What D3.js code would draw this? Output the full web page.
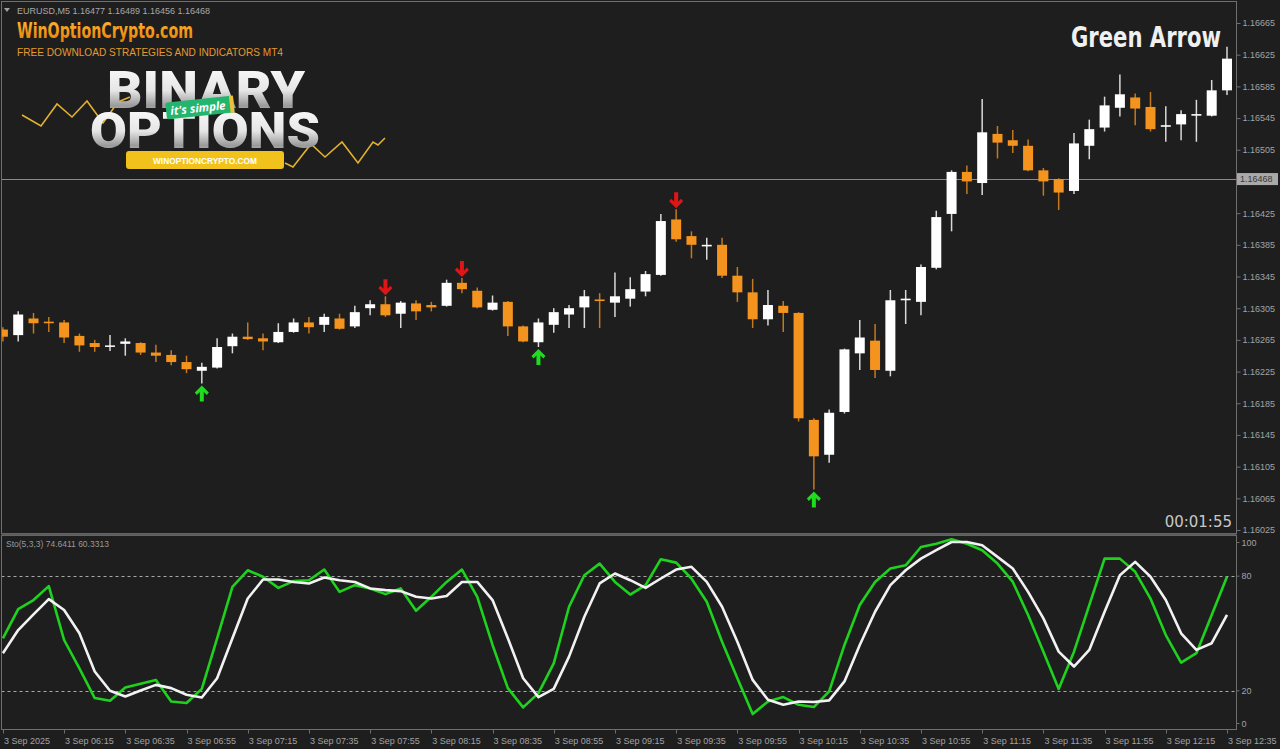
<!DOCTYPE html>
<html><head><meta charset="utf-8">
<script src="https://cdn.jsdelivr.net/npm/d3@7"></script>
<style>
html,body{margin:0;padding:0;background:#1e1e1e;overflow:hidden}
svg{display:block}
</style></head><body>
<svg id="chart" width="1280" height="749"></svg>
<script>
// ---------------- DATA ----------------
const symbolText = "EURUSD,M5";
const headerQuote = "1.16477 1.16489 1.16456 1.16468";
const chartTitle = "Green Arrow";
const timerText = "00:01:55";
const stochLabel = "Sto(5,3,3) 74.6411 60.3313";
const bidPrice = 1.16468;

const opens = [1.16278,1.16271,1.16292,1.16288,1.16287,1.16270,1.16261,1.16257,1.16260,1.16261,
1.16249,1.16246,1.16237,1.16226,1.16230,1.16257,1.16269,1.16267,1.16262,1.16275,
1.16287,1.16284,1.16292,1.16282,1.16305,1.16310,1.16298,1.16311,1.16309,1.16308,
1.16337,1.16327,1.16303,1.16313,1.16282,1.16262,1.16284,1.16297,1.16306,1.16316,
1.16312,1.16317,1.16326,1.16347,1.16417,1.16396,1.16383,1.16385,1.16346,1.16325,
1.16291,1.16308,1.16299,1.16164,1.16120,1.16174,1.16248,1.16264,1.16226,1.16315,
1.16313,1.16356,1.16424,1.16477,1.16463,1.16525,1.16517,1.16510,1.16479,1.16468,
1.16453,1.16510,1.16533,1.16558,1.16571,1.16559,1.16534,1.16537,1.16548,1.16548,
1.16580];
const highs = [1.16281,1.16301,1.16299,1.16294,1.16290,1.16273,1.16265,1.16271,1.16267,1.16262,
1.16259,1.16252,1.16245,1.16236,1.16267,1.16273,1.16287,1.16273,1.16286,1.16292,
1.16294,1.16298,1.16298,1.16308,1.16315,1.16320,1.16314,1.16315,1.16313,1.16341,
1.16343,1.16331,1.16321,1.16314,1.16283,1.16292,1.16305,1.16309,1.16328,1.16324,
1.16350,1.16344,1.16352,1.16424,1.16430,1.16402,1.16394,1.16394,1.16357,1.16342,
1.16328,1.16314,1.16300,1.16166,1.16177,1.16254,1.16290,1.16285,1.16328,1.16328,
1.16360,1.16428,1.16479,1.16485,1.16569,1.16535,1.16530,1.16518,1.16482,1.16469,
1.16526,1.16543,1.16572,1.16600,1.16576,1.16578,1.16560,1.16555,1.16568,1.16593,
1.16635];
const lows = [1.16263,1.16263,1.16273,1.16275,1.16261,1.16250,1.16250,1.16251,1.16245,1.16246,
1.16237,1.16233,1.16223,1.16210,1.16229,1.16248,1.16265,1.16252,1.16261,1.16274,
1.16273,1.16275,1.16278,1.16280,1.16296,1.16294,1.16280,1.16290,1.16301,1.16307,
1.16324,1.16305,1.16302,1.16270,1.16262,1.16256,1.16274,1.16280,1.16280,1.16280,
1.16294,1.16307,1.16320,1.16346,1.16389,1.16368,1.16366,1.16343,1.16313,1.16280,
1.16283,1.16275,1.16162,1.16076,1.16110,1.16172,1.16227,1.16217,1.16219,1.16285,
1.16296,1.16354,1.16402,1.16449,1.16448,1.16494,1.16501,1.16478,1.16447,1.16429,
1.16449,1.16493,1.16528,1.16547,1.16536,1.16528,1.16515,1.16517,1.16515,1.16547,
1.16574];
const closes = [1.16269,1.16297,1.16286,1.16286,1.16268,1.16258,1.16256,1.16258,1.16263,1.16249,
1.16245,1.16237,1.16228,1.16231,1.16256,1.16269,1.16266,1.16263,1.16275,1.16287,
1.16281,1.16294,1.16279,1.16300,1.16310,1.16296,1.16312,1.16301,1.16306,1.16337,
1.16329,1.16306,1.16312,1.16282,1.16263,1.16287,1.16300,1.16305,1.16320,1.16314,
1.16320,1.16329,1.16348,1.16415,1.16392,1.16385,1.16385,1.16346,1.16325,1.16291,
1.16309,1.16299,1.16166,1.16118,1.16173,1.16253,1.16268,1.16227,1.16315,1.16317,
1.16357,1.16420,1.16477,1.16465,1.16527,1.16514,1.16510,1.16479,1.16465,1.16451,
1.16513,1.16531,1.16561,1.16575,1.16557,1.16531,1.16536,1.16550,1.16550,1.16580,
1.16620];

const stochK = [47.5,62.8,67.5,74.8,46.6,31.8,16.2,14.8,21.7,23.7,
25.7,14.4,13.6,21.0,47.5,74.4,83.1,79.7,73.9,77.4,
77.9,83.5,71.8,75.3,73.6,70.6,73.6,61.9,69.2,77.0,
83.5,69.2,44.0,21.4,11.3,18.8,34.4,64.0,80.5,86.6,
77.0,70.4,75.3,88.9,87.1,78.8,66.6,45.7,26.6,7.8,
14.4,16.7,12.7,11.5,19.7,44.0,64.9,77.0,84.0,85.7,
95.3,97.0,99.3,97.0,93.6,86.6,77.0,59.7,40.5,21.0,
40.5,64.9,89.2,89.2,82.3,68.3,49.2,34.8,39.7,59.7,
79.7];
const stochD = [39.7,51.8,60.0,68.0,62.3,50.1,30.1,20.0,17.0,20.2,
23.1,21.4,17.9,16.5,26.6,47.5,68.3,78.3,78.3,77.0,
76.2,79.3,77.9,77.0,73.6,72.7,72.2,69.2,68.3,69.6,
77.0,77.0,67.5,47.5,26.6,16.7,21.0,37.9,58.8,76.2,
81.4,77.9,73.9,78.8,83.5,84.9,77.0,64.0,45.7,25.7,
15.3,12.7,14.4,14.1,15.0,24.9,44.0,61.4,75.3,83.1,
89.2,93.6,97.9,97.9,96.2,90.1,84.0,71.8,57.9,40.5,
32.7,41.4,61.4,80.5,87.5,79.7,67.5,50.1,41.4,44.9,
59.7];

const buySignals = [13, 35, 53];   // green up arrows (candle index)
const sellSignals = [25, 30, 44];  // red down arrows (candle index)

const priceTicks = [1.16665,1.16625,1.16585,1.16545,1.16505,1.16425,1.16385,1.16345,
1.16305,1.16265,1.16225,1.16185,1.16145,1.16105,1.16065,1.16025];
const timeTickIndex = [0,4,8,12,16,20,24,28,32,36,40,44,48,52,56,60,64,68,72,76,80];
const timeTickLabels = ["3 Sep 2025","3 Sep 06:15","3 Sep 06:35","3 Sep 06:55","3 Sep 07:15",
"3 Sep 07:35","3 Sep 07:55","3 Sep 08:15","3 Sep 08:35","3 Sep 08:55","3 Sep 09:15",
"3 Sep 09:35","3 Sep 09:55","3 Sep 10:15","3 Sep 10:35","3 Sep 10:55","3 Sep 11:15",
"3 Sep 11:35","3 Sep 11:55","3 Sep 12:15","3 Sep 12:35"];
const stochTicks = [100, 80, 20, 0];
const stochLevels = [80, 20];

// ---------------- LAYOUT ----------------
const W = 1280, H = 749;
const BG = "#1e1e1e";
const FRAME = "#6f6f6f";
const AXIS_TXT = "#a3a3a3";
const ORANGE = "#f5931f";
const plotL = 1.5, plotR = 1236.5;
const mainTop = 1.5, mainBot = 533.5;
const subTop = 535.5, subBot = 729.5;

const svg = d3.select("#chart");
svg.append("rect").attr("width", W).attr("height", H).attr("fill", BG);

const n = opens.length;
const x = d3.scaleLinear().domain([0, n - 1]).range([2.9, 1227]);
const y = d3.scaleLinear().domain([1.16025, 1.16665]).range([530, 23]);
const ys = d3.scaleLinear().domain([0, 100]).range([729, 538]);

const defs = svg.append("defs");
defs.append("clipPath").attr("id", "clipMain").append("rect")
  .attr("x", plotL + 0.5).attr("y", mainTop + 0.5).attr("width", plotR - plotL - 1).attr("height", mainBot - mainTop - 1);
defs.append("clipPath").attr("id", "clipSub").append("rect")
  .attr("x", plotL + 0.5).attr("y", subTop + 0.5).attr("width", plotR - plotL - 1).attr("height", subBot - subTop - 1);

// ---------------- LOGO (decor) ----------------
const logo = svg.append("g");
const gOr = defs.append("linearGradient").attr("id", "gOr").attr("x1", 0).attr("y1", 0).attr("x2", 0).attr("y2", 1);
gOr.append("stop").attr("offset", "0%").attr("stop-color", "#ffb733");
gOr.append("stop").attr("offset", "100%").attr("stop-color", "#e87d00");
const gSil = defs.append("linearGradient").attr("id", "gSil").attr("x1", 0).attr("y1", 0).attr("x2", 0).attr("y2", 1);
gSil.append("stop").attr("offset", "0%").attr("stop-color", "#ffffff");
gSil.append("stop").attr("offset", "50%").attr("stop-color", "#e6e6e6");
gSil.append("stop").attr("offset", "75%").attr("stop-color", "#9a9a9a");
gSil.append("stop").attr("offset", "100%").attr("stop-color", "#d8d8d8");

const zigL = [[22,115],[41,126],[57,104],[72,117],[87,101],[103,123],[118,102],[130,97]];
const zigR = [[285,163],[293,167],[311,144],[325,157],[342,142],[358,163],[373,142],[378,145],[385,138]];
[zigL, zigR].forEach(z => logo.append("path").attr("d", d3.line()(z))
  .attr("fill", "none").attr("stroke", "#e2b12e").attr("stroke-width", 1.6));

logo.append("text").attr("x", 17).attr("y", 38).text("WinOptionCrypto.com")
  .attr("font-family", "DejaVu Sans Condensed, DejaVu Sans").attr("font-weight", "bold")
  .attr("font-size", 21).attr("fill", "url(#gOr)")
  .attr("textLength", 176).attr("lengthAdjust", "spacingAndGlyphs");
logo.append("text").attr("x", 17).attr("y", 56).text("FREE DOWNLOAD STRATEGIES AND INDICATORS MT4")
  .attr("font-family", "Liberation Sans, Arial").attr("font-size", 10.5).attr("fill", "#e39a2f")
  .attr("textLength", 266).attr("lengthAdjust", "spacingAndGlyphs");
logo.append("text").attr("x", 107).attr("y", 108).text("BINARY")
  .attr("font-family", "Roboto, Liberation Sans").attr("font-weight", 900)
  .attr("font-size", 52).attr("fill", "url(#gSil)")
  .attr("textLength", 198).attr("lengthAdjust", "spacingAndGlyphs");
logo.append("text").attr("x", 90).attr("y", 148).text("OPTIONS")
  .attr("font-family", "Roboto, Liberation Sans").attr("font-weight", 900)
  .attr("font-size", 50).attr("fill", "url(#gSil)")
  .attr("textLength", 230).attr("lengthAdjust", "spacingAndGlyphs");
const tag = logo.append("g").attr("transform", "rotate(-6 200 108)");
tag.append("rect").attr("x", 166).attr("y", 99).attr("width", 68).attr("height", 17).attr("rx", 2).attr("fill", "#23b46e");
tag.append("rect").attr("x", 230).attr("y", 99).attr("width", 4).attr("height", 17).attr("fill", "#e9c23a");
tag.append("text").attr("x", 198).attr("y", 112).attr("text-anchor", "middle").text("it's simple")
  .attr("font-family", "Open Sans, Liberation Sans").attr("font-style", "italic").attr("font-weight", "bold")
  .attr("font-size", 11.5).attr("fill", "#ffffff");
logo.append("rect").attr("x", 126).attr("y", 151).attr("width", 158).attr("height", 18).attr("rx", 3).attr("fill", "#f1c21b");
logo.append("text").attr("x", 205).attr("y", 163.5).attr("text-anchor", "middle").text("WINOPTIONCRYPTO.COM")
  .attr("font-family", "Liberation Sans, Arial").attr("font-weight", "bold").attr("font-size", 9)
  .attr("fill", "#ffffff").attr("textLength", 104).attr("lengthAdjust", "spacingAndGlyphs");

// header
svg.append("path").attr("d", "M4,8 L10,8 L7,12 Z").attr("fill", "#a0a0a0");
svg.append("text").attr("x", 17).attr("y", 13.5).text(symbolText + "  " + headerQuote)
  .attr("font-family", "Liberation Sans, Arial").attr("font-size", 9).attr("fill", "#a8a8a8")
  .attr("textLength", 193).attr("lengthAdjust", "spacingAndGlyphs");

// title & timer
svg.append("g").attr("transform", "translate(1071,47) scale(1,1.25)")
  .append("text").attr("x", 0).attr("y", 0).text(chartTitle)
  .attr("font-family", "DejaVu Sans Condensed, DejaVu Sans").attr("font-weight", "bold")
  .attr("font-size", 22).attr("fill", "#f0f0f0")
  .attr("textLength", 150).attr("lengthAdjust", "spacingAndGlyphs");
svg.append("text").attr("x", 1232).attr("y", 527).attr("text-anchor", "end").text(timerText)
  .attr("font-family", "DejaVu Sans, Liberation Sans").attr("font-size", 15).attr("fill", "#c8c8c8");

// ---------------- MAIN PANEL ----------------
const main = svg.append("g").attr("clip-path", "url(#clipMain)");
// bid line
main.append("line").attr("x1", plotL).attr("x2", plotR)
  .attr("y1", Math.round(y(bidPrice)) + 0.5).attr("y2", Math.round(y(bidPrice)) + 0.5)
  .attr("stroke", "#8a8a8a").attr("stroke-width", 1);

const candles = d3.range(n).map(i => ({i, o: opens[i], h: highs[i], l: lows[i], c: closes[i], up: closes[i] >= opens[i]}));
const bodyW = 10;
main.selectAll("line.wick").data(candles).join("line").attr("class", "wick")
  .attr("x1", d => x(d.i)).attr("x2", d => x(d.i))
  .attr("y1", d => y(d.h)).attr("y2", d => y(d.l))
  .attr("stroke", d => d.up ? "#d9d9d9" : "#c47a1c").attr("stroke-width", 1.5);
main.selectAll("rect.body").data(candles).join("rect").attr("class", "body")
  .attr("x", d => x(d.i) - bodyW / 2).attr("width", bodyW)
  .attr("y", d => Math.min(y(d.o), y(d.c)))
  .attr("height", d => Math.max(1.5, Math.abs(y(d.o) - y(d.c))))
  .attr("fill", d => d.up ? "#ffffff" : ORANGE);

// arrows
const upArrow = "M0,0 L7,7 L5,9.5 L2,6.5 L2,16 L-2,16 L-2,6.5 L-5,9.5 L-7,7 Z";
main.selectAll("path.buy").data(buySignals).join("path").attr("class", "buy")
  .attr("d", upArrow).attr("fill", "#1edc1e")
  .attr("transform", i => `translate(${x(i)},${y(lows[i]) + 2})`);
main.selectAll("path.sell").data(sellSignals).join("path").attr("class", "sell")
  .attr("d", upArrow).attr("fill", "#e01515")
  .attr("transform", i => `translate(${x(i)},${y(highs[i]) - 1}) scale(1,-1)`);

// ---------------- SUB PANEL (Stochastic) ----------------
const sub = svg.append("g").attr("clip-path", "url(#clipSub)");
sub.selectAll("line.lvl").data(stochLevels).join("line").attr("class", "lvl")
  .attr("x1", plotL).attr("x2", plotR)
  .attr("y1", d => Math.round(ys(d)) + 0.5).attr("y2", d => Math.round(ys(d)) + 0.5)
  .attr("stroke", "#a8a8a8").attr("stroke-width", 1).attr("stroke-dasharray", "3,3");
const lineGen = d3.line().x((d, i) => x(i)).y(d => ys(d));
sub.append("path").datum(stochK).attr("d", lineGen).attr("fill", "none")
  .attr("stroke", "#1ed21e").attr("stroke-width", 2.6).attr("stroke-linejoin", "round");
sub.append("path").datum(stochD).attr("d", lineGen).attr("fill", "none")
  .attr("stroke", "#f2f2f2").attr("stroke-width", 2.6).attr("stroke-linejoin", "round");
svg.append("text").attr("x", 6).attr("y", 547).text(stochLabel)
  .attr("font-family", "Liberation Sans, Arial").attr("font-size", 8.5).attr("fill", "#9a9a9a");

// ---------------- FRAMES ----------------
const fr = svg.append("g").attr("fill", "none").attr("stroke", FRAME).attr("stroke-width", 1);
fr.append("rect").attr("x", plotL).attr("y", mainTop).attr("width", plotR - plotL).attr("height", mainBot - mainTop);
fr.append("rect").attr("x", plotL).attr("y", subTop).attr("width", plotR - plotL).attr("height", subBot - subTop);
svg.append("rect").attr("x", plotL).attr("y", mainBot).attr("width", plotR - plotL).attr("height", 2).attr("fill", "#5a5a5a");

// ---------------- AXES ----------------
const yAxis = d3.axisRight(y).tickValues(priceTicks).tickSize(4).tickPadding(2).tickFormat(d3.format(".5f"));
const gy = svg.append("g").attr("transform", `translate(${plotR},0)`).call(yAxis);
gy.select(".domain").remove();
gy.selectAll("line").attr("stroke", FRAME);
gy.selectAll("text").attr("font-family", "Liberation Sans, Arial").attr("font-size", 9).attr("fill", AXIS_TXT);

// bid label
const by = y(bidPrice);
svg.append("rect").attr("x", 1237).attr("y", by - 6).attr("width", 41).attr("height", 12).attr("fill", "#a9a9a9");
svg.append("text").attr("x", 1240).attr("y", by + 3.3).text(d3.format(".5f")(bidPrice))
  .attr("font-family", "Liberation Sans, Arial").attr("font-size", 9).attr("fill", "#3a3a3a");

// stochastic axis
const gs = svg.append("g").attr("transform", `translate(${plotR},0)`);
gs.selectAll("text").data(stochTicks).join("text")
  .attr("x", 5).attr("y", d => Math.min(Math.max(ys(d), subTop + 7), subBot - 6) + 3.2)
  .text(d => d).attr("font-family", "Liberation Sans, Arial").attr("font-size", 9).attr("fill", AXIS_TXT);
gs.selectAll("line").data(stochTicks).join("line")
  .attr("x1", 0).attr("x2", 3).attr("y1", d => Math.min(Math.max(ys(d), subTop + 7), subBot - 6))
  .attr("y2", d => Math.min(Math.max(ys(d), subTop + 7), subBot - 6)).attr("stroke", FRAME);

// time axis
const gt = svg.append("g");
gt.selectAll("line").data(timeTickIndex).join("line")
  .attr("x1", d => Math.round(x(d)) + 0.5).attr("x2", d => Math.round(x(d)) + 0.5)
  .attr("y1", subBot).attr("y2", subBot + 4).attr("stroke", FRAME);
gt.selectAll("text").data(timeTickIndex).join("text")
  .attr("x", d => x(d) + 1).attr("y", 743.5)
  .text((d, k) => timeTickLabels[k])
  .attr("font-family", "Liberation Sans, Arial").attr("font-size", 9).attr("fill", AXIS_TXT);
</script>
</body></html>
